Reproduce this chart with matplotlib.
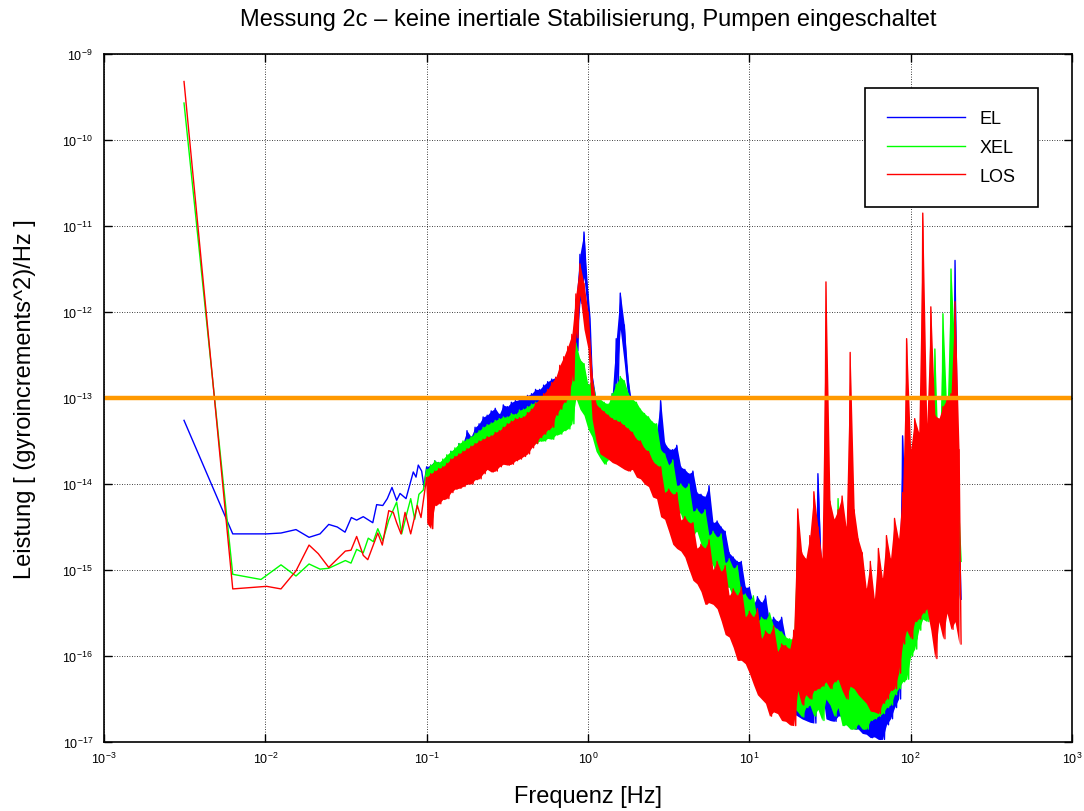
import numpy as np
import matplotlib
matplotlib.use("Agg")
import matplotlib.pyplot as plt

# sparse low-frequency points, log10(f) / log10(P)
el_lf = [-2.504, -2.202, -1.992, -1.903, -1.810, -1.729, -1.661, -1.607, -1.554, -1.506,
         -1.467, -1.434, -1.393, -1.334, -1.310, -1.272, -1.244, -1.215, -1.186, -1.165,
         -1.128, -1.083, -1.066, -1.052, -1.031, -1.017]
el_lp = [-13.26, -14.58, -14.58, -14.57, -14.53, -14.62, -14.58, -14.47, -14.50, -14.56,
         -14.39, -14.42, -14.38, -14.45, -14.24, -14.25, -14.17, -14.04, -14.19, -14.11,
         -14.17, -13.86, -13.92, -13.78, -13.85, -14.03]

xel_lf = [-2.504, -2.202, -2.027, -1.903, -1.810, -1.729, -1.661, -1.607, -1.504, -1.469,
          -1.434, -1.393, -1.362, -1.331, -1.303, -1.272, -1.235, -1.186, -1.155, -1.124,
          -1.099, -1.074, -1.048, -1.021]
xel_lp = [-9.57, -15.05, -15.11, -14.94, -15.07, -14.93, -14.99, -14.98, -14.89, -14.92,
          -14.76, -14.80, -14.63, -14.67, -14.52, -14.66, -14.42, -14.21, -14.58, -14.35,
          -14.17, -14.41, -14.12, -14.07]

los_lf = [-2.504, -2.202, -1.992, -1.903, -1.810, -1.729, -1.672, -1.607, -1.504, -1.469,
          -1.434, -1.393, -1.365, -1.303, -1.275, -1.235, -1.207, -1.186, -1.159, -1.134,
          -1.099, -1.058, -1.035]
los_lp = [-9.32, -15.22, -15.19, -15.22, -15.01, -14.71, -14.81, -14.97, -14.78, -14.77,
          -14.61, -14.83, -14.88, -14.57, -14.71, -14.31, -14.33, -14.45, -14.58, -14.33,
          -14.58, -14.25, -14.39]

# dense part 0.1 .. 200 Hz: two readings per frequency bin (log10 P),
# one near each edge of the noise band
el_a = [
    -13.80, -14.02, -13.73, -13.97, -13.77, -13.92, -13.62, -13.85, -13.53, -13.80,
    -13.38, -13.71, -13.34, -13.62, -13.22, -13.48, -13.15, -13.45, -13.19, -13.43,
    -13.10, -13.41, -13.03, -13.36, -12.99, -13.34, -12.95, -13.29, -12.90, -13.24,
    -12.81, -13.19, -12.76, -13.07, -12.66, -12.95, -12.37, -11.85, -11.33, -11.07,
    -12.08, -12.72, -13.01, -13.48, -13.10, -13.62, -12.95, -12.31, -11.78, -12.60,
    -13.07, -13.48, -13.24, -13.65, -13.29, -13.77, -13.38, -13.83, -13.03, -13.92,
    -13.59, -14.00, -13.55, -14.06, -13.83, -14.40, -13.85, -14.41, -14.12, -14.58,
    -14.02, -14.78, -14.43, -15.10, -14.55, -15.20, -14.85, -15.45, -14.90, -15.57,
    -15.20, -15.83, -15.31, -16.10, -15.30, -16.03, -15.55, -16.09, -15.55, -16.38,
    -15.94, -16.67, -15.92, -16.73, -15.86, -16.77, -16.15, -13.88, -16.38, -16.73,
    -16.03, -16.76, -15.80, -16.67, -16.15, -16.79, -15.98, -16.85, -16.27, -16.91,
    -16.21, -16.94, -16.38, -16.97, -15.92, -16.73, -15.57, -16.50, -13.44, -16.03,
    -14.17, -15.80, -14.64, -15.57, -13.94, -15.34, -13.83, -15.45, -13.59, -15.34,
    -13.24, -11.40, -15.34]
el_b = [
    -14.00, -13.78, -13.98, -13.75, -13.95, -13.70, -13.90, -13.60, -13.83, -13.52,
    -13.73, -13.45, -13.66, -13.30, -13.55, -13.20, -13.47, -13.12, -13.44, -13.08,
    -13.40, -13.05, -13.38, -13.02, -13.33, -12.97, -13.30, -12.90, -13.26, -12.85,
    -13.22, -12.78, -13.15, -12.70, -13.03, -12.58, -12.80, -12.45, -11.90, -11.60,
    -11.80, -13.05, -13.30, -13.05, -13.50, -13.10, -13.40, -12.85, -12.20, -12.15,
    -12.80, -13.10, -13.60, -13.27, -13.70, -13.33, -13.80, -13.40, -13.85, -13.52,
    -13.97, -13.60, -14.05, -13.80, -14.15, -13.88, -14.38, -14.10, -14.52, -14.15,
    -14.72, -14.45, -14.85, -14.50, -15.10, -14.80, -15.30, -14.90, -15.50, -15.20,
    -15.70, -15.40, -15.95, -15.38, -16.00, -15.60, -16.10, -15.60, -16.35, -15.80,
    -16.65, -15.95, -16.70, -15.90, -16.75, -16.00, -16.78, -14.60, -15.20, -16.00,
    -16.75, -15.90, -16.70, -16.00, -16.80, -16.10, -16.85, -16.20, -16.90, -16.20,
    -16.95, -16.30, -16.97, -16.20, -16.80, -15.70, -16.60, -15.20, -15.90, -14.60,
    -15.70, -14.40, -15.50, -14.20, -15.40, -13.80, -15.50, -13.70, -15.30, -13.40,
    -15.20, -14.90, -14.50]

xel_a = [
    -13.83, -14.12, -13.73, -14.08, -13.71, -14.06, -13.62, -13.94, -13.53, -13.85,
    -13.48, -13.83, -13.41, -13.73, -13.34, -13.69, -13.29, -13.65, -13.24, -13.62,
    -13.22, -13.59, -13.19, -13.57, -13.13, -13.56, -13.07, -13.53, -13.03, -13.50,
    -12.99, -13.48, -12.92, -13.42, -12.84, -13.36, -12.66, -12.36, -13.13, -12.60,
    -13.36, -12.78, -13.62, -13.01, -13.77, -13.07, -13.59, -12.84, -13.30, -12.80,
    -13.48, -13.01, -13.59, -13.13, -13.73, -13.22, -13.88, -13.30, -14.06, -13.65,
    -14.17, -13.72, -14.29, -14.00, -14.50, -14.00, -14.58, -14.29, -14.70, -14.30,
    -14.87, -14.55, -15.10, -14.58, -15.20, -14.87, -15.34, -14.95, -15.55, -15.28,
    -15.90, -15.30, -15.90, -15.55, -15.98, -15.50, -16.09, -15.69, -16.27, -15.78,
    -16.50, -15.80, -14.44, -16.71, -15.34, -16.57, -14.87, -16.62, -15.57, -13.79,
    -16.57, -15.10, -14.17, -16.81, -15.34, -16.85, -15.57, -16.79, -15.80, -16.85,
    -15.45, -16.73, -15.34, -16.67, -15.57, -16.57, -15.34, -16.38, -14.87, -16.27,
    -14.64, -15.92, -13.83, -15.57, -13.36, -15.45, -12.43, -15.34, -12.02, -15.10,
    -11.50, -14.87, -14.38]
xel_b = [
    -14.10, -13.78, -14.06, -13.75, -14.02, -13.66, -13.97, -13.58, -13.88, -13.50,
    -13.83, -13.45, -13.75, -13.38, -13.70, -13.31, -13.66, -13.26, -13.63, -13.22,
    -13.60, -13.18, -13.57, -13.14, -13.55, -13.10, -13.52, -13.05, -13.50, -13.00,
    -13.47, -12.95, -13.43, -12.88, -13.38, -12.75, -13.30, -13.00, -12.55, -13.20,
    -12.85, -13.45, -13.00, -13.70, -13.05, -13.72, -12.95, -13.45, -12.75, -13.35,
    -12.95, -13.52, -13.05, -13.65, -13.18, -13.80, -13.28, -13.95, -13.60, -14.10,
    -13.78, -14.22, -14.02, -14.35, -14.05, -14.48, -14.32, -14.55, -14.35, -14.78,
    -14.60, -14.95, -14.62, -15.12, -14.92, -15.20, -14.98, -15.45, -15.28, -15.65,
    -15.35, -15.85, -15.60, -15.95, -15.58, -16.05, -15.65, -16.20, -15.72, -16.40,
    -15.80, -16.60, -16.65, -15.20, -16.60, -15.40, -16.70, -15.50, -16.75, -16.50,
    -14.90, -16.70, -16.60, -15.40, -16.80, -15.60, -16.85, -15.70, -16.85, -15.60,
    -16.75, -15.50, -16.70, -15.45, -16.60, -15.30, -16.45, -15.10, -16.30, -14.90,
    -16.00, -14.60, -15.70, -14.30, -15.60, -14.00, -15.40, -13.90, -15.20, -13.20,
    -14.90, -12.52, -14.90]

los_a = [
    -13.92, -14.52, -13.85, -14.23, -13.80, -14.17, -13.71, -14.06, -13.65, -14.03,
    -13.59, -14.00, -13.53, -13.94, -13.48, -13.83, -13.44, -13.85, -13.38, -13.77,
    -13.30, -13.77, -13.24, -13.71, -13.22, -13.65, -13.13, -13.53, -13.01, -13.42,
    -12.90, -13.34, -12.76, -13.13, -12.52, -13.01, -12.26, -11.79, -11.44, -11.67,
    -12.43, -13.24, -13.07, -13.65, -13.16, -13.71, -13.24, -13.77, -13.28, -13.83,
    -13.36, -13.83, -13.48, -13.94, -13.59, -14.03, -13.73, -14.17, -13.80, -14.41,
    -14.06, -14.70, -14.10, -14.78, -14.38, -14.99, -14.45, -15.16, -14.70, -15.40,
    -14.65, -15.40, -14.90, -15.59, -14.95, -15.78, -15.22, -16.05, -15.20, -16.09,
    -15.48, -16.33, -15.45, -16.50, -15.71, -16.70, -15.65, -16.67, -15.86, -16.76,
    -15.92, -16.81, -14.29, -16.57, -14.87, -16.50, -14.09, -16.38, -14.87, -11.65,
    -16.38, -14.41, -16.27, -14.14, -16.50, -12.47, -16.38, -14.64, -16.50, -15.22,
    -16.64, -15.34, -16.67, -15.10, -16.50, -14.87, -16.38, -14.64, -15.86, -12.31,
    -15.80, -13.24, -15.57, -10.85, -15.45, -11.94, -16.03, -13.24, -15.80, -13.01,
    -15.69, -11.88, -15.86]
los_b = [
    -14.45, -13.88, -14.25, -13.82, -14.18, -13.76, -14.10, -13.68, -14.05, -13.62,
    -14.00, -13.56, -13.95, -13.50, -13.88, -13.45, -13.86, -13.40, -13.80, -13.34,
    -13.78, -13.27, -13.73, -13.23, -13.68, -13.17, -13.58, -13.06, -13.46, -12.95,
    -13.37, -12.82, -13.20, -12.62, -13.05, -12.40, -12.80, -12.30, -11.80, -12.20,
    -12.00, -12.75, -13.50, -13.12, -13.68, -13.20, -13.75, -13.26, -13.80, -13.32,
    -13.85, -13.40, -13.92, -13.50, -14.00, -13.62, -14.15, -13.78, -14.38, -14.10,
    -14.55, -14.12, -14.75, -14.42, -14.85, -14.45, -15.12, -14.75, -15.25, -14.75,
    -15.38, -15.00, -15.45, -15.02, -15.75, -15.30, -15.90, -15.30, -16.05, -15.55,
    -16.20, -15.55, -16.45, -15.80, -16.55, -15.75, -16.65, -15.95, -16.75, -15.88,
    -16.80, -15.70, -16.40, -14.80, -16.45, -14.60, -16.40, -14.50, -16.35, -16.30,
    -14.20, -16.30, -14.30, -16.40, -14.50, -16.35, -14.30, -16.45, -14.80, -16.55,
    -14.90, -16.65, -14.75, -16.55, -14.60, -16.40, -14.40, -16.20, -14.10, -15.70,
    -13.60, -15.60, -13.40, -15.50, -13.30, -15.70, -13.20, -15.60, -13.10, -15.50,
    -12.95, -15.60, -13.60]

# frequency bins of the dense part (log10 Hz), upper and lower reading per bin
dense_lf = np.linspace(-1.0, 2.3125, 2 * len(el_a))

threshold = 1e-13
title = "Messung 2c \u2013 keine inertiale Stabilisierung, Pumpen eingeschaltet"

plt.rcParams['font.family'] = ['Liberation Sans', 'DejaVu Sans']
plt.rcParams['mathtext.fontset'] = 'custom'
plt.rcParams['mathtext.rm'] = 'Liberation Sans'
plt.rcParams['mathtext.it'] = 'Liberation Sans:italic'


def series(lf, lp, a, b):
    hi = np.maximum(a, b)
    lo = np.minimum(a, b)
    dense = np.empty(2 * len(a))
    dense[0::2] = hi
    dense[1::2] = lo
    f = np.concatenate([lf, dense_lf])
    p = np.concatenate([lp, dense])
    return 10 ** f, 10 ** p, 10 ** dense_lf[0::2], 10 ** hi, 10 ** lo


fig = plt.figure(figsize=(10.84, 8.12), dpi=100)
ax = fig.add_axes([104 / 1084, 1 - 743 / 812, 968 / 1084, 688 / 812])

for z, (lf, lp, a, b, col, name) in enumerate(
        [(el_lf, el_lp, el_a, el_b, '#0000ff', 'EL'),
         (xel_lf, xel_lp, xel_a, xel_b, '#00ff00', 'XEL'),
         (los_lf, los_lp, los_a, los_b, '#ff0000', 'LOS')]):
    f, p, fb, hi, lo = series(lf, lp, a, b)
    ax.fill_between(fb, lo, hi, color=col, lw=0, zorder=2 + z)
    ax.plot(f, p, color=col, lw=1.0, label=name, zorder=2 + z)

ax.axhline(threshold, color='#ff9900', lw=3.2, zorder=6)

ax.set_xscale('log')
ax.set_yscale('log')
ax.set_xlim(1e-3, 1e3)
ax.set_ylim(1e-17, 1e-9)
ax.set_xticks([10.0 ** e for e in range(-3, 4)])
ax.set_yticks([10.0 ** e for e in range(-17, -8)])
ax.minorticks_off()
ax.grid(True, color='k', linestyle=(0, (1, 2)), linewidth=0.6)
ax.set_axisbelow(True)
ax.tick_params(direction='in', top=True, right=True, length=6, width=1,
               labelsize=9)
ax.tick_params(axis='x', pad=6)
ax.tick_params(axis='y', pad=8)
for s in ax.spines.values():
    s.set_linewidth(1.2)
    s.set_zorder(7)

leg = ax.legend(loc='upper right', bbox_to_anchor=(0.965, 0.951), borderaxespad=0,
                fancybox=False, edgecolor='k', framealpha=1, fontsize=13,
                handlelength=4.3, labelspacing=0.65, borderpad=1.25,
                handletextpad=0.8)
leg.get_frame().set_linewidth(1.2)
leg.set_zorder(8)

fig.text(588 / 1084, 1 - 20 / 812, title, ha='center', va='center', fontsize=17)
fig.text(588 / 1084, 1 - 797 / 812, 'Frequenz [Hz]', ha='center', va='center',
         fontsize=17)
fig.text(25 / 1084, 1 - 399 / 812, 'Leistung [ (gyroincrements^2)/Hz ]',
         rotation=90, ha='center', va='center', fontsize=17)

fig.savefig('out.png', dpi=100)
